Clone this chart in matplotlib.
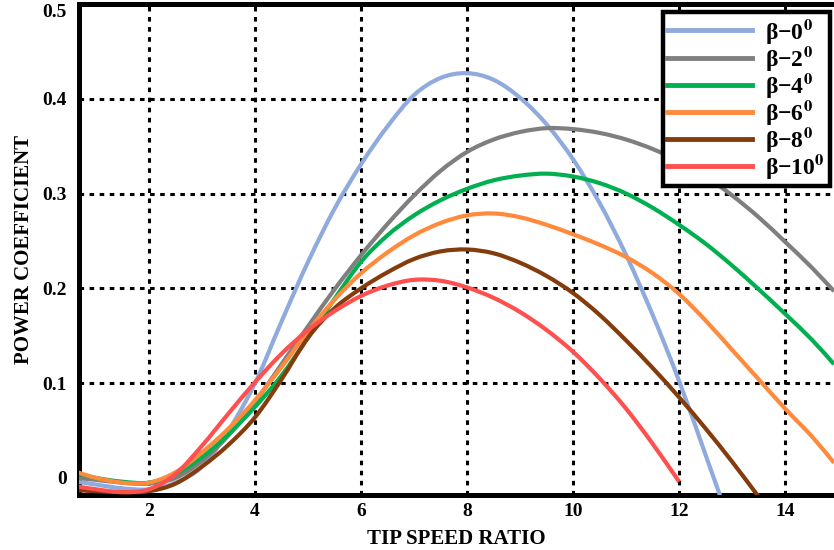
import matplotlib
matplotlib.use("Agg")
import matplotlib.pyplot as plt
from matplotlib.path import Path
from matplotlib.patches import PathPatch
from matplotlib.lines import Line2D

plt.rcParams["font.family"] = ["Liberation Serif", "DejaVu Serif"]
plt.rcParams["font.weight"] = "bold"
plt.rcParams["mathtext.fontset"] = "stix"

# Tip speed ratio samples
tsr = [0.65, 1.0, 1.5, 2.0, 2.5, 3.0, 3.5, 4.0, 4.5, 5.0, 5.5, 6.0, 6.5, 7.0,
       7.5, 8.0, 8.5, 9.0, 9.5, 10.0, 10.5, 11.0, 11.5, 12.0, 12.5, 13.0,
       13.5, 14.0, 14.5, 14.92]

# Power coefficient for each blade pitch angle
cp_b0 = [-0.004, -0.007, -0.011, -0.012, -0.005, 0.012, 0.050, 0.100, 0.165,
         0.228, 0.284, 0.331, 0.371, 0.404, 0.422, 0.427, 0.420, 0.401, 0.373,
         0.336, 0.290, 0.235, 0.172, 0.102, 0.024, -0.055]
cp_b2 = [0.000, -0.002, -0.005, -0.006, 0.000, 0.018, 0.045, 0.080, 0.120,
         0.160, 0.199, 0.235, 0.268, 0.298, 0.324, 0.344, 0.357, 0.365, 0.369,
         0.368, 0.364, 0.357, 0.347, 0.334, 0.318, 0.298, 0.275, 0.249, 0.222,
         0.197]
cp_b4 = [0.005, 0.000, -0.004, -0.005, 0.004, 0.022, 0.046, 0.075, 0.108,
         0.148, 0.189, 0.228, 0.256, 0.277, 0.293, 0.305, 0.314, 0.319, 0.321,
         0.318, 0.311, 0.300, 0.285, 0.267, 0.247, 0.224, 0.199, 0.173, 0.146,
         0.120]
cp_b6 = [0.006, 0.000, -0.005, -0.005, 0.006, 0.027, 0.052, 0.082, 0.117,
         0.155, 0.188, 0.216, 0.238, 0.256, 0.269, 0.277, 0.279, 0.275, 0.267,
         0.257, 0.246, 0.233, 0.216, 0.194, 0.166, 0.135, 0.104, 0.073, 0.044,
         0.016]
cp_b8 = [-0.013, -0.014, -0.015, -0.014, -0.006, 0.012, 0.035, 0.064, 0.104,
         0.148, 0.179, 0.200, 0.217, 0.231, 0.239, 0.241, 0.237, 0.227, 0.213,
         0.195, 0.172, 0.145, 0.116, 0.085, 0.052, 0.017, -0.020]
cp_b10 = [-0.009, -0.012, -0.015, -0.012, 0.004, 0.034, 0.068, 0.101, 0.131,
          0.156, 0.176, 0.192, 0.203, 0.209, 0.208, 0.201, 0.190, 0.175, 0.156,
          0.133, 0.105, 0.073, 0.036, -0.004]

series = [
    (r"β−0$^{\mathbf{0}}$", cp_b0, "#8FAADC"),
    (r"β−2$^{\mathbf{0}}$", cp_b2, "#7F7F7F"),
    (r"β−4$^{\mathbf{0}}$", cp_b4, "#00B050"),
    (r"β−6$^{\mathbf{0}}$", cp_b6, "#FF8A3C"),
    (r"β−8$^{\mathbf{0}}$", cp_b8, "#843C0C"),
    (r"β−10$^{\mathbf{0}}$", cp_b10, "#FF4F4F"),
]

x_ticks = [2, 4, 6, 8, 10, 12, 14]
y_ticks = [0, 0.1, 0.2, 0.3, 0.4, 0.5]
y_tick_labels = ["0", "0.1", "0.2", "0.3", "0.4", "0.5"]


def smooth_path(xs, ys):
    """Spreadsheet-style smoothed line: Catmull-Rom segments as cubic Beziers."""
    pts = list(zip(xs, ys))
    n = len(pts)
    verts = [pts[0]]
    codes = [Path.MOVETO]
    for i in range(n - 1):
        p0 = pts[i - 1] if i > 0 else pts[i]
        p1 = pts[i]
        p2 = pts[i + 1]
        p3 = pts[i + 2] if i + 2 < n else pts[i + 1]
        c1 = (p1[0] + (p2[0] - p0[0]) / 6, p1[1] + (p2[1] - p0[1]) / 6)
        c2 = (p2[0] - (p3[0] - p1[0]) / 6, p2[1] - (p3[1] - p1[1]) / 6)
        verts += [c1, c2, p2]
        codes += [Path.CURVE4] * 3
    return Path(verts, codes)


fig = plt.figure(figsize=(8.34, 5.5), dpi=100)
ax = fig.add_axes([79 / 834, 1 - 495 / 550, 1 - 79 / 834, (495 - 4) / 550])

handles = []
labels = []
for label, cp, color in series:
    patch = PathPatch(smooth_path(tsr[:len(cp)], cp), fill=False,
                      edgecolor=color, lw=3.0, capstyle="butt",
                      joinstyle="round", zorder=3)
    ax.add_patch(patch)
    handles.append(Line2D([], [], color=color, lw=3.5))
    labels.append(label)

ax.set_xlim(0.68, 14.92)
ax.set_ylim(-0.018, 0.5)
ax.set_xticks(x_ticks)
ax.set_yticks(y_ticks)
ax.set_yticklabels(y_tick_labels)

grid_style = dict(color="black", lw=2.2, linestyle=(0, (1.5, 1.8)))
ax.grid(True, **grid_style, zorder=1)
ax.set_axisbelow(True)
ygl = ax.get_ygridlines()
ygl[0].set_visible(False)
ygl[-1].set_visible(False)

for side in ["left", "top", "bottom"]:
    ax.spines[side].set_linewidth(3.6)
    ax.spines[side].set_color("black")
ax.spines["right"].set_visible(False)

ax.tick_params(axis="both", length=0, labelsize=14)
ax.tick_params(axis="y", pad=9)
ax.tick_params(axis="x", pad=6)
for t in ax.get_yticklabels():
    t.set_fontweight("bold")
for t in ax.get_xticklabels():
    t.set_fontweight("bold")
ax.get_yticklabels()[-1].set_verticalalignment("top")

ax.set_xlabel("TIP SPEED RATIO", fontsize=15, fontweight="bold", labelpad=6)
ax.set_ylabel("POWER COEFFICIENT", fontsize=15, fontweight="bold", labelpad=6)

leg = ax.legend(handles, labels, loc="upper right",
                bbox_to_anchor=(830 / 834, 1 - 12 / 550),
                bbox_transform=fig.transFigure, fancybox=False,
                framealpha=1, edgecolor="black", fontsize=17,
                handlelength=3.6, handletextpad=0.55, labelspacing=-0.08,
                borderpad=0.2, borderaxespad=0)
leg.get_frame().set_linewidth(3.2)
for txt in leg.get_texts():
    txt.set_fontweight("bold")

fig.savefig("out.png", dpi=100)
